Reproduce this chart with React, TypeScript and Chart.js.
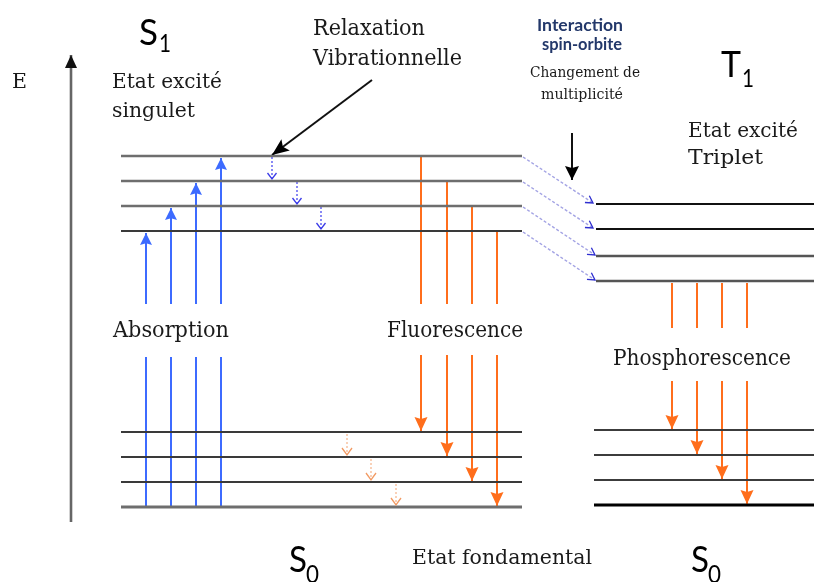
import React, { useEffect, useRef } from 'react';
import { Chart, registerables } from 'chart.js';

Chart.register(...registerables);

// ---- Energy levels (vertical position, top = 0) ----
const S1_LEVELS = [156, 181, 206, 231];
const S0_LEVELS = [432, 457, 482, 507];
const T1_LEVELS = [204, 229, 256, 281];
const T1_GROUND_LEVELS = [430, 455, 480, 505];
const S_LEVEL_SPAN = [121, 522];
const T_LEVEL_SPAN = [596, 814];

// ---- Transitions ----
const ABSORPTION_X = [146, 171, 196, 221];
const ABSORPTION_TIP = [233, 208, 183, 158];
const ABSORPTION_GAP = [304, 357];
const FLUORESCENCE_X = [421, 447, 472, 497];
const FLUORESCENCE_TIP = [431, 456, 481, 506];
const FLUORESCENCE_GAP = [304, 355];
const PHOSPHORESCENCE_X = [672, 697, 722, 747];
const PHOSPHORESCENCE_TIP = [429, 454, 479, 504];
const PHOSPHORESCENCE_GAP = [328, 381];
const VR_S1_X = [272, 297, 321];
const VR_S0_X = [347, 371, 396];
const ISC_START_X = 523;
const ISC_END_X = [593, 593, 595, 595];
const ENERGY_AXIS = { x: 71, from: 522, to: 55 };
const RELAX_POINTER = [{ x: 372, y: 80 }, { x: 272, y: 155 }];
const ISC_POINTER = [{ x: 572, y: 133 }, { x: 572, y: 180 }];

// ---- Texts ----
const TXT_E = 'E';
const TXT_S = 'S';
const TXT_T = 'T';
const TXT_EXCITED = 'Etat excité';
const TXT_SINGLET = 'singulet';
const TXT_TRIPLET = 'Triplet';
const TXT_RELAX = ['Relaxation', 'Vibrationnelle'];
const TXT_INTERACTION = ['Interaction', 'spin-orbite'];
const TXT_MULTIPLICITY = ['Changement de', 'multiplicité'];
const TXT_ABSORPTION = 'Absorption';
const TXT_FLUORESCENCE = 'Fluorescence';
const TXT_PHOSPHORESCENCE = 'Phosphorescence';
const TXT_GROUND = 'Etat fondamental';

type Pt = { x: number; y: number };
type Arrow = { type: 'filled' | 'open'; len: number; half: number; color: string; notch?: number };

function seg(points: Pt[], color: string, width: number, opts: { dash?: number[]; arrow?: Arrow } = {}) {
  return {
    data: points,
    borderColor: color,
    backgroundColor: color,
    borderWidth: width,
    borderDash: opts.dash || [],
    borderCapStyle: 'butt',
    pointRadius: 0,
    pointHoverRadius: 0,
    showLine: true,
    fill: false,
    tension: 0,
    clip: false,
    arrow: opts.arrow || null,
  } as any;
}

const SERIF = '"DejaVu Serif", "Liberation Serif", serif';
const SANS = 'Lato, "Open Sans", sans-serif';

type Label = {
  text: string; x: number; y: number; font: string; color?: string;
  width?: number; align?: 'left' | 'center';
};

function buildDatasets() {
  const ds: any[] = [];
  const grey = '#6e6e6e';
  const dark = '#3a3a3a';
  S1_LEVELS.forEach((e, i) =>
    ds.push(seg([{ x: S_LEVEL_SPAN[0], y: e }, { x: S_LEVEL_SPAN[1], y: e }], i < 3 ? grey : dark, i < 3 ? 2.6 : 2.2)));
  S0_LEVELS.forEach((e, i) =>
    ds.push(seg([{ x: S_LEVEL_SPAN[0], y: e }, { x: S_LEVEL_SPAN[1], y: e }], i < 3 ? dark : grey, i < 3 ? 2.2 : 3)));
  T1_LEVELS.forEach((e, i) =>
    ds.push(seg([{ x: T_LEVEL_SPAN[0], y: e }, { x: T_LEVEL_SPAN[1], y: e }], i < 2 ? '#111' : '#555', i < 2 ? 2 : 2.6)));
  T1_GROUND_LEVELS.forEach((e, i) =>
    ds.push(seg([{ x: T_LEVEL_SPAN[0] - 2, y: e }, { x: T_LEVEL_SPAN[1], y: e }], i < 3 ? '#3c3c3c' : '#000', i < 3 ? 2.2 : 3.2)));

  ds.push(seg([{ x: ENERGY_AXIS.x, y: ENERGY_AXIS.from }, { x: ENERGY_AXIS.x, y: ENERGY_AXIS.to }], '#666', 2.6,
    { arrow: { type: 'filled', len: 13, half: 6, color: '#111', notch: 1 } }));

  const blue = '#3d6bff';
  ABSORPTION_X.forEach((x, i) => {
    ds.push(seg([{ x, y: S0_LEVELS[3] }, { x, y: ABSORPTION_GAP[1] }], blue, 2));
    ds.push(seg([{ x, y: ABSORPTION_GAP[0] }, { x, y: ABSORPTION_TIP[i] }], blue, 2,
      { arrow: { type: 'filled', len: 12, half: 6, color: blue, notch: 0.85 } }));
  });

  VR_S1_X.forEach((x, i) =>
    ds.push(seg([{ x, y: S1_LEVELS[i] + 1 }, { x, y: S1_LEVELS[i + 1] - 2 }], '#4a4af0', 1.3,
      { dash: [2, 2], arrow: { type: 'open', len: 6, half: 4.5, color: '#3b3be8' } })));

  const orange = '#ff6e1c';
  FLUORESCENCE_X.forEach((x, i) => {
    ds.push(seg([{ x, y: S1_LEVELS[i] }, { x, y: FLUORESCENCE_GAP[0] }], orange, 2));
    ds.push(seg([{ x, y: FLUORESCENCE_GAP[1] }, { x, y: FLUORESCENCE_TIP[i] }], orange, 2,
      { arrow: { type: 'filled', len: 14, half: 6.5, color: orange, notch: 0.85 } }));
  });

  VR_S0_X.forEach((x, i) =>
    ds.push(seg([{ x, y: S0_LEVELS[i] + 2 }, { x, y: S0_LEVELS[i + 1] - 2 }], '#f6b48a', 1.2,
      { dash: [2, 2], arrow: { type: 'open', len: 7, half: 5, color: '#f29a63' } })));

  T1_LEVELS.forEach((e, i) =>
    ds.push(seg([{ x: ISC_START_X, y: S1_LEVELS[i] + 1 }, { x: ISC_END_X[i], y: e - 1 }], '#a4a4e4', 1.4,
      { dash: [3, 2], arrow: { type: 'open', len: 7, half: 4, color: '#2f2fd0' } })));

  PHOSPHORESCENCE_X.forEach((x, i) => {
    ds.push(seg([{ x, y: T1_LEVELS[3] + 2 }, { x, y: PHOSPHORESCENCE_GAP[0] }], orange, 2));
    ds.push(seg([{ x, y: PHOSPHORESCENCE_GAP[1] }, { x, y: PHOSPHORESCENCE_TIP[i] }], orange, 2,
      { arrow: { type: 'filled', len: 14, half: 6.5, color: orange, notch: 0.85 } }));
  });

  ds.push(seg(RELAX_POINTER, '#111', 2, { arrow: { type: 'filled', len: 17, half: 7, color: '#000', notch: 0.8 } }));
  ds.push(seg(ISC_POINTER, '#111', 2, { arrow: { type: 'filled', len: 14, half: 7, color: '#000', notch: 0.85 } }));
  return ds;
}

function buildLabels(): Label[] {
  const serif = (s: number) => `${s}px ${SERIF}`;
  const ink = '#1a1a1a';
  return [
    { text: TXT_E, x: 12, y: 88, font: serif(20), width: 15, color: ink },
    { text: TXT_S, x: 139, y: 45, font: `37px ${SANS}`, width: 19, color: '#000' },
    { text: '1', x: 159, y: 52, font: `25px ${SANS}`, width: 12, color: '#000' },
    { text: TXT_EXCITED, x: 112, y: 88, font: serif(21), width: 110, color: ink },
    { text: TXT_SINGLET, x: 112, y: 117, font: serif(21), width: 83, color: ink },
    { text: TXT_RELAX[0], x: 313, y: 35, font: serif(22), width: 112, color: ink },
    { text: TXT_RELAX[1], x: 313, y: 65, font: serif(22), width: 149, color: ink },
    { text: TXT_INTERACTION[0], x: 580, y: 31, font: `bold 17px ${SANS}`, width: 86, color: '#23386a', align: 'center' },
    { text: TXT_INTERACTION[1], x: 582, y: 50, font: `bold 17px ${SANS}`, width: 80, color: '#23386a', align: 'center' },
    { text: TXT_MULTIPLICITY[0], x: 585, y: 77, font: serif(15), width: 110, color: ink, align: 'center' },
    { text: TXT_MULTIPLICITY[1], x: 582, y: 99, font: serif(15), width: 82, color: ink, align: 'center' },
    { text: TXT_T, x: 721, y: 77, font: `37px ${SANS}`, width: 20, color: '#000' },
    { text: '1', x: 742, y: 87, font: `25px ${SANS}`, width: 12, color: '#000' },
    { text: TXT_EXCITED, x: 688, y: 137, font: serif(21), width: 110, color: ink },
    { text: TXT_TRIPLET, x: 688, y: 164, font: serif(21), width: 75, color: ink },
    { text: TXT_ABSORPTION, x: 113, y: 337, font: serif(23), width: 116, color: ink },
    { text: TXT_FLUORESCENCE, x: 387, y: 337, font: serif(23), width: 136, color: ink },
    { text: TXT_PHOSPHORESCENCE, x: 613, y: 365, font: serif(23), width: 178, color: ink },
    { text: TXT_S, x: 289, y: 572, font: `37px ${SANS}`, width: 18, color: '#000' },
    { text: '0', x: 306, y: 583, font: `25px ${SANS}`, width: 13, color: '#000' },
    { text: TXT_GROUND, x: 412, y: 564, font: serif(21), width: 180, color: ink },
    { text: TXT_S, x: 691, y: 572, font: `37px ${SANS}`, width: 18, color: '#000' },
    { text: '0', x: 708, y: 583, font: `25px ${SANS}`, width: 13, color: '#000' },
  ];
}

const arrowPlugin = {
  id: 'arrowHeads',
  afterDatasetsDraw(chart: any) {
    const ctx = chart.ctx as CanvasRenderingContext2D;
    chart.data.datasets.forEach((d: any, i: number) => {
      if (!d.arrow) return;
      const pts = chart.getDatasetMeta(i).data;
      if (pts.length < 2) return;
      const a = pts[pts.length - 2];
      const b = pts[pts.length - 1];
      const ang = Math.atan2(b.y - a.y, b.x - a.x);
      const { len, half, color, type } = d.arrow as Arrow;
      const notch = (d.arrow as Arrow).notch ?? 0.8;
      const bx = b.x - Math.cos(ang) * len;
      const by = b.y - Math.sin(ang) * len;
      const px = -Math.sin(ang) * half;
      const py = Math.cos(ang) * half;
      ctx.save();
      ctx.setLineDash([]);
      if (type === 'filled') {
        const nx = b.x - Math.cos(ang) * len * notch;
        const ny = b.y - Math.sin(ang) * len * notch;
        ctx.fillStyle = color;
        ctx.beginPath();
        ctx.moveTo(b.x, b.y);
        ctx.lineTo(bx + px, by + py);
        ctx.lineTo(nx, ny);
        ctx.lineTo(bx - px, by - py);
        ctx.closePath();
        ctx.fill();
      } else {
        ctx.strokeStyle = color;
        ctx.lineWidth = 1.3;
        ctx.beginPath();
        ctx.moveTo(bx + px, by + py);
        ctx.lineTo(b.x, b.y);
        ctx.lineTo(bx - px, by - py);
        ctx.stroke();
      }
      ctx.restore();
    });
  },
};

function makeTextPlugin(labels: Label[]) {
  return {
    id: 'diagramText',
    afterDraw(chart: any) {
      const ctx = chart.ctx as CanvasRenderingContext2D;
      const { x: xs, y: ys } = chart.scales;
      labels.forEach((l) => {
        ctx.save();
        ctx.font = l.font;
        ctx.fillStyle = l.color || '#000';
        ctx.textBaseline = 'alphabetic';
        ctx.textAlign = 'left';
        const natural = ctx.measureText(l.text).width;
        const target = l.width || natural;
        const sx = target / natural;
        let px = xs.getPixelForValue(l.x);
        const py = ys.getPixelForValue(l.y);
        if (l.align === 'center') px -= target / 2;
        ctx.translate(px, py);
        ctx.scale(sx, 1);
        ctx.fillText(l.text, 0, 0);
        ctx.restore();
      });
    },
  };
}

export default function App() {
  const ref = useRef<HTMLCanvasElement | null>(null);
  useEffect(() => {
    document.body.style.margin = '0';
    const canvas = ref.current;
    if (!canvas) return;
    const chart = new Chart(canvas, {
      type: 'scatter',
      data: { datasets: buildDatasets() },
      options: {
        animation: false,
        responsive: false,
        maintainAspectRatio: false,
        devicePixelRatio: 1,
        layout: { padding: 0 },
        events: [],
        plugins: { legend: { display: false }, tooltip: { enabled: false } },
        scales: {
          x: { type: 'linear', min: 0, max: 814, display: false },
          y: { type: 'linear', min: 0, max: 582, reverse: true, display: false },
        },
      },
      plugins: [arrowPlugin, makeTextPlugin(buildLabels())],
    } as any);
    return () => chart.destroy();
  }, []);
  return (
    <div style={{ position: 'absolute', left: 0, top: 0, width: 814, height: 582, background: '#fff' }}>
      <canvas ref={ref} width={814} height={582} style={{ width: 814, height: 582, display: 'block' }} />
    </div>
  );
}
